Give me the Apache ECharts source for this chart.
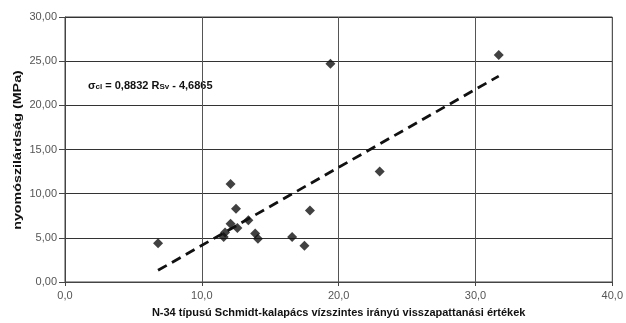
<!DOCTYPE html>
<html><head><meta charset="utf-8">
<script src="https://cdn.jsdelivr.net/npm/echarts@6/dist/echarts.min.js"></script>
<style>html,body{margin:0;padding:0;background:#fff}#c{width:626px;height:323px}</style>
</head><body><div id="c"></div>
<script>
const pointsX = [6.8, 12.1, 12.5, 12.1, 12.6, 13.4, 11.7, 11.6, 13.9, 14.1, 16.6, 17.5, 17.9, 23.0, 19.4, 31.7];
const pointsY = [4.4, 11.1, 8.3, 6.6, 6.1, 7.0, 5.6, 5.1, 5.5, 4.9, 5.1, 4.1, 8.1, 12.5, 24.7, 25.7];
const trendX = [6.8, 31.7];
const trendY = [1.32, 23.31];
const xTicks = [0, 10, 20, 30, 40];
const yTicks = [0, 5, 10, 15, 20, 25, 30];
const xTitle = 'N-34 típusú Schmidt-kalapács vízszintes irányú visszapattanási értékek';
const yTitle = 'nyomószilárdság (MPa)';

const chart = echarts.init(document.getElementById('c'));
const font = 'Liberation Sans, Arial, sans-serif';
chart.setOption({
  animation: false,
  grid: {left: 65, right: 12, top: 17, bottom: 40, show: true, borderColor: '#444', borderWidth: 1},
  xAxis: {
    type: 'value', min: xTicks[0], max: xTicks[xTicks.length - 1], interval: xTicks[1] - xTicks[0],
    axisLine: {lineStyle: {color: '#444'}},
    axisTick: {show: true, inside: false, length: 4, lineStyle: {color: '#444'}},
    axisLabel: {color: '#555', fontFamily: font, fontSize: 11, margin: 8,
      formatter: v => v.toFixed(1).replace('.', ',')},
    splitLine: {show: true, lineStyle: {color: '#555', width: 1}},
    name: xTitle, nameLocation: 'middle', nameGap: 25,
    nameTextStyle: {fontFamily: font, fontWeight: 'bold', fontSize: 11, color: '#111'}
  },
  yAxis: {
    type: 'value', min: yTicks[0], max: yTicks[yTicks.length - 1], interval: yTicks[1] - yTicks[0],
    axisLine: {show: true, lineStyle: {color: '#444'}},
    axisTick: {show: true, length: 6, lineStyle: {color: '#444'}},
    axisLabel: {color: '#555', fontFamily: font, fontSize: 11, margin: 8,
      formatter: v => v.toFixed(2).replace('.', ',')},
    splitLine: {show: true, lineStyle: {color: '#333', width: 1}}
  },
  series: [
    {type: 'scatter', symbol: 'diamond', symbolSize: 10, itemStyle: {color: '#111'},
     data: pointsX.map((x, i) => [x, pointsY[i]]), z: 3},
    {type: 'line', symbol: 'none', lineStyle: {color: '#111', width: 2.8, type: [10, 6]},
     data: trendX.map((x, i) => [x, trendY[i]]), z: 2}
  ],
  graphic: [{
    type: 'text', x: 18, y: 150, rotation: Math.PI / 2, scaleX: 1.3,
    style: {text: yTitle, fontFamily: font, fontWeight: 'bold', fontSize: 11, fill: '#111',
      textAlign: 'center', textVerticalAlign: 'middle'}
  }, {
    type: 'text', left: 88, top: 80,
    style: {
      text: '{b|σ}{s|cl}{b| = 0,8832 R}{s|Sv}{b| - 4,6865}',
      rich: {
        b: {fontFamily: font, fontWeight: 'bold', fontSize: 11, fill: '#111', verticalAlign: 'bottom'},
        s: {fontFamily: font, fontWeight: 'bold', fontSize: 8, fill: '#111', padding: [4, 0, 0, 0], verticalAlign: 'bottom'}
      }
    }
  }]
});
</script></body></html>
